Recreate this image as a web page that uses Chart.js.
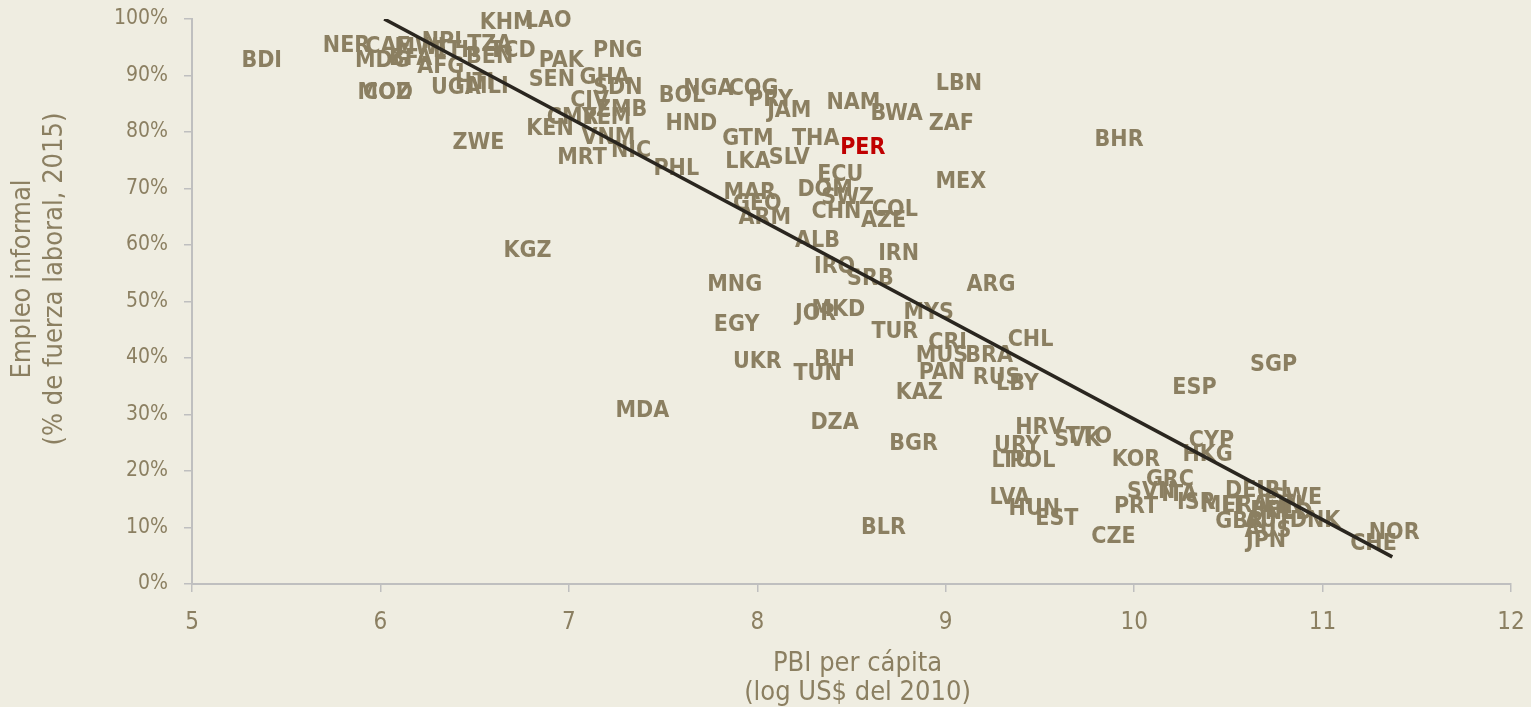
<!DOCTYPE html>
<html>
<head>
<meta charset="utf-8">
<script src="https://cdn.jsdelivr.net/npm/chart.js@4/dist/chart.umd.min.js"></script>
<style>
  html, body { margin: 0; padding: 0; background: #EFEDE1; }
  #wrap { width: 1531px; height: 707px; }
</style>
</head>
<body>
<div id="wrap"><canvas id="c" width="1531" height="707"></canvas></div>
<script>
// Country codes, log GDP per capita (2010 US$) and informal employment share (% of labour force, 2015)
const countries = ['BDI','NER','CAF','MWI','NPL','ETH','TZA','TCD','MDG','BFA','AFG','BEN','MOZ','COD','UGA','HTI','MLI',
  'KHM','LAO','PAK','PNG','SEN','GHA','SDN','CIV','ZMB','CMR','YEM','KEN','VNM','MRT','NIC','ZWE','PHL',
  'BOL','NGA','COG','PRY','JAM','NAM','BWA','LBN','ZAF','HND','GTM','THA','PER','LKA','SLV','ECU','MEX',
  'DOM','SWZ','MAR','GEO','ARM','CHN','COL','AZE','ALB','IRN','IRQ','SRB','MNG','ARG','MKD','JOR','MYS',
  'EGY','TUR','CHL','CRI','MUS','BRA','UKR','BIH','TUN','PAN','RUS','LBY','KAZ','KGZ','MDA','DZA','BGR',
  'BLR','BHR','ESP','SGP','HRV','SVK','TTO','URY','LTU','POL','KOR','CYP','HKG','GRC','SVN','ITA','ISR',
  'LVA','HUN','EST','PRT','CZE','MLT','FRA','DEU','IRL','SWE','BEL','NLD','AUT','FIN','GBR','DNK','JPN',
  'AUS','CHE','NOR'];

const gdpLog = [5.37,5.82,6.04,6.21,6.34,6.40,6.58,6.70,6.01,6.16,6.32,6.58,6.02,6.04,6.40,6.50,6.57,
  6.67,6.89,6.96,7.26,6.91,7.19,7.26,7.11,7.28,7.02,7.20,6.90,7.21,7.07,7.33,6.52,7.57,
  7.60,7.74,7.98,8.07,8.17,8.51,8.74,9.07,9.03,7.65,7.95,8.31,8.56,7.95,8.17,8.44,9.08,
  8.36,8.48,7.96,8.00,8.04,8.42,8.73,8.67,8.32,8.75,8.41,8.60,7.88,9.24,8.43,8.31,8.91,
  7.89,8.73,9.45,9.01,8.98,9.23,8.00,8.41,8.32,8.98,9.27,9.38,8.86,6.78,7.39,8.41,8.83,
  8.67,9.92,10.32,10.74,9.50,9.70,9.76,9.38,9.35,9.46,10.01,10.41,10.39,10.19,10.09,10.24,10.33,
  9.34,9.47,9.59,10.01,9.89,10.47,10.59,10.61,10.75,10.86,10.73,10.82,10.71,10.79,10.56,10.96,10.70,
  10.71,11.27,11.38];

const informal = [92.7,95.4,95.2,95.0,96.1,94.5,95.6,94.5,92.7,93.1,91.7,93.5,87.1,87.1,88.0,88.8,88.1,
  99.5,99.8,92.7,94.5,89.4,89.7,88.0,85.7,84.1,82.7,82.7,80.7,79.1,75.6,76.8,78.2,73.6,
  86.5,87.8,87.8,85.8,83.9,85.3,83.4,88.7,81.6,81.6,78.9,78.9,77.3,74.9,75.6,72.6,71.3,
  69.9,68.5,69.4,67.4,65.0,66.0,66.4,64.4,60.9,58.6,56.3,54.2,53.1,53.1,48.7,48.0,48.1,
  46.0,44.8,43.4,42.8,40.5,40.5,39.5,39.8,37.3,37.5,36.6,35.6,34.0,59.1,30.8,28.7,25.0,
  10.1,78.8,34.9,38.9,27.8,25.7,26.2,24.6,21.9,21.9,22.1,25.5,23.0,18.6,16.5,15.9,14.5,
  15.4,13.5,11.7,13.8,8.5,14.0,14.0,16.6,16.6,15.4,13.1,12.7,11.3,14.0,11.2,11.3,7.8,
  9.6,7.3,9.2];

const highlighted = ['PER'];

// Fitted trend line end points
const trendX = [6.02, 11.37];
const trendY = [100.0, 4.8];

const xTicksMin = 5, xTicksMax = 12;
const yTicksMin = 0, yTicksMax = 100;

const xTitle = ['PBI per cápita', '(log US$ del 2010)'];
const yTitle = ['Empleo informal', '(% de fuerza laboral, 2015)'];

const brown = '#8B7F61';
const axisGrey = '#BFBFBF';
const condensed = "'DejaVu Sans Condensed', 'DejaVu Sans', sans-serif";

const points = countries.map((c, i) => ({ x: gdpLog[i], y: informal[i] }));
const trend = trendX.map((x, i) => ({ x: x, y: trendY[i] }));

// Draws each country code with its capitals centred on the point, under the trend line
const codeLabels = {
  id: 'codeLabels',
  beforeDatasetsDraw(chart) {
    const meta = chart.getDatasetMeta(0);
    const ctx = chart.ctx;
    ctx.save();
    ctx.font = "bold 23px " + condensed;
    ctx.textAlign = 'center';
    ctx.textBaseline = 'alphabetic';
    meta.data.forEach((pt, i) => {
      const code = countries[i];
      ctx.fillStyle = highlighted.includes(code) ? '#C00000' : brown;
      ctx.fillText(code, pt.x, pt.y + 7);
    });
    ctx.restore();
  }
};

// Two-line axis titles
const axisTitles = {
  id: 'axisTitles',
  afterDraw(chart) {
    const ctx = chart.ctx;
    const area = chart.chartArea;
    ctx.save();
    ctx.fillStyle = brown;
    ctx.font = "27px " + condensed;
    ctx.textAlign = 'center';
    ctx.textBaseline = 'middle';
    const cx = (area.left + area.right) / 2 + 6;
    ctx.fillText(xTitle[0], cx, 664);
    ctx.fillText(xTitle[1], cx, 693);
    ctx.translate(0, 279);
    ctx.rotate(-Math.PI / 2);
    ctx.fillText(yTitle[0], 0, 23);
    ctx.fillText(yTitle[1], 0, 55);
    ctx.restore();
  }
};

new Chart(document.getElementById('c'), {
  data: {
    datasets: [
      {
        type: 'scatter',
        data: points,
        pointRadius: 0,
        pointHoverRadius: 0,
        showLine: false
      },
      {
        type: 'line',
        data: trend,
        borderColor: '#2A261F',
        borderWidth: 3.5,
        pointRadius: 0,
        fill: false
      }
    ]
  },
  options: {
    responsive: false,
    animation: false,
    events: [],
    layout: { autoPadding: false, padding: { top: 19, right: 20, left: 0, bottom: 0 } },
    plugins: { legend: { display: false }, tooltip: { enabled: false } },
    scales: {
      x: {
        type: 'linear',
        min: xTicksMin,
        max: xTicksMax,
        afterFit(scale) {
          scale.height = 123;
          scale.paddingLeft = 0;
          scale.paddingRight = 0;
        },
        border: { display: true, color: axisGrey, width: 2 },
        grid: { display: true, drawOnChartArea: false, drawTicks: true, tickLength: 8, color: axisGrey, lineWidth: 1.5 },
        ticks: { stepSize: 1, color: brown, font: { family: condensed, size: 24 }, padding: 16 }
      },
      y: {
        type: 'linear',
        min: yTicksMin,
        max: yTicksMax,
        afterFit(scale) {
          scale.width = 192;
          scale.paddingTop = 0;
          scale.paddingBottom = 0;
        },
        border: { display: true, color: axisGrey, width: 2 },
        grid: { display: true, drawOnChartArea: false, drawTicks: true, tickLength: 8, color: axisGrey, lineWidth: 1.5 },
        ticks: { stepSize: 10, color: brown, font: { family: condensed, size: 21 }, padding: 16,
                 callback: v => v + '%' }
      }
    }
  },
  plugins: [codeLabels, axisTitles]
});
</script>
</body>
</html>
